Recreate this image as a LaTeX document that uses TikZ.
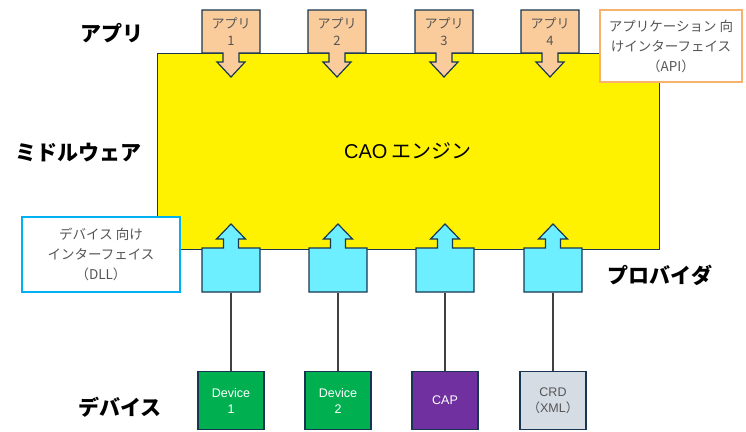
\documentclass[tikz,border=0pt]{standalone}
\usepackage{fontspec}
\setmainfont{Noto Sans CJK JP}
\newfontfamily\jpfont{Noto Sans CJK JP}
\newfontfamily\lsans{Liberation Sans}
\definecolor{edge}{RGB}{24,54,82}
\definecolor{appfill}{RGB}{251,204,155}
\definecolor{provfill}{RGB}{110,239,255}
\definecolor{devgreen}{RGB}{0,176,80}
\definecolor{devpurple}{RGB}{112,48,160}
\definecolor{crdfill}{RGB}{214,220,228}
\definecolor{apiline}{RGB}{247,178,108}
\definecolor{dllline}{RGB}{0,176,240}
\definecolor{note}{RGB}{85,85,85}
\tikzset{
  layer/.style={font=\bfseries\fontsize{21}{24}\selectfont},
  engine/.style={draw=edge,line width=0.9pt,fill=yellow,minimum width=502,minimum height=196,
    font=\fontsize{20}{24}\selectfont},
  appshape/.style={draw=edge,line width=1.2pt,fill=appfill},
  provshape/.style={draw=edge,line width=1.2pt,fill=provfill},
  apptext/.style={align=center,inner sep=0pt,font=\fontsize{13}{17}\selectfont,text=note},
  provbox/.style={inner sep=0pt,minimum width=58,minimum height=44},
  ifbox/.style={draw,line width=2.2pt,fill=white,align=center,inner sep=0pt,
    font=\fontsize{13.5}{20}\selectfont,text=note},
  dev/.style={draw=edge,line width=1.2pt,minimum width=66,minimum height=58,align=center,
    inner sep=0pt,font=\lsans\fontsize{12.5}{16}\selectfont},
  wire/.style={draw=black!75,line width=1.2pt}
}
\begin{document}
\begin{tikzpicture}[x=1pt,y=-1pt]
  \useasboundingbox (0,0) rectangle (746,431);
  % layer names
  \node[layer] (lapp) at (112,33) {アプリ};
  \node[layer] (lmid) at (78,153) {ミドルウェア};
  \node[layer] (lprov) at (660,275) {プロバイダ};
  \node[layer] (ldev) at (120,407) {デバイス};
  % engine
  \node[engine] (cao) at (408,151) {{\lsans CAO} エンジン};
  % applications, arrow down into the engine
  \foreach \i/\x in {1/231,2/337,3/444,4/550}{
    \draw[appshape] (\x-29,10) -- (\x+29,10) -- (\x+29,53) -- (\x+8,53) -- (\x+8,62)
      -- (\x+14,62) -- (\x,77) -- (\x-14,62) -- (\x-8,62) -- (\x-8,53) -- (\x-29,53) -- cycle
      node[apptext] (app\i) at (\x,32) {アプリ\\\i};
  }
  % providers, arrow up into the engine
  \foreach \i/\x in {1/231,2/338,3/445,4/553}{
    \draw[provshape] (\x-29,292) -- (\x+29,292) -- (\x+29,248) -- (\x+7.5,248) -- (\x+7.5,239)
      -- (\x+14.5,239) -- (\x,224) -- (\x-14.5,239) -- (\x-7.5,239) -- (\x-7.5,248) -- (\x-29,248) -- cycle
      node[provbox] (prov\i) at (\x,270) {};
  }
  % interfaces
  \node[ifbox,draw=apiline,minimum width=142,minimum height=72] (api) at (671,46)
    {アプリケーション 向\\けインターフェイス\\（API）};
  \node[ifbox,draw=dllline,minimum width=158,minimum height=75] (dll) at (101,254.5)
    {デバイス 向け\\インターフェイス\\（DLL）};
  % devices
  \foreach \i/\x/\c/\tc/\t in {1/231/devgreen/white/{Device\\1},2/338/devgreen/white/{Device\\2},
      3/445/devpurple/white/{CAP},4/553/crdfill/note/{CRD\\{\jpfont （}XML{\jpfont ）}}}{
    \node[dev,fill=\c,text=\tc] (dev\i) at (\x,400.5) {\t};
    \draw[wire] (prov\i) -- (dev\i);
  }
\end{tikzpicture}
\end{document}
